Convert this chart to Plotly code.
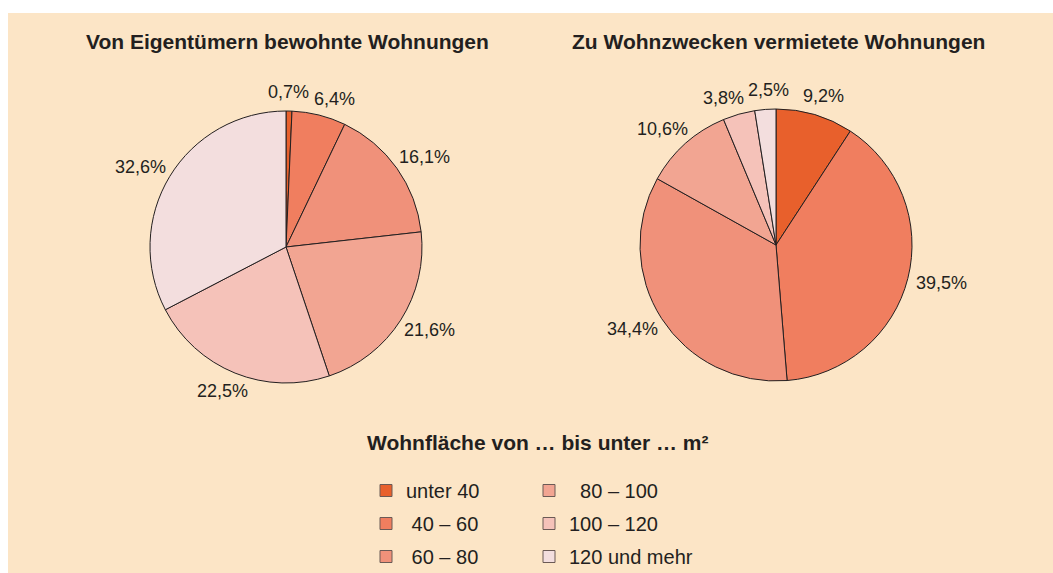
import math
import plotly.graph_objects as go

categories = ["unter 40", "40 – 60", "60 – 80", "80 – 100", "100 – 120", "120 und mehr"]
owner_values = [0.7, 6.4, 16.1, 21.6, 22.5, 32.6]
rented_values = [9.2, 39.5, 34.4, 10.6, 3.8, 2.5]
colors = ["#E8602C", "#F07E5F", "#F0917A", "#F2A592", "#F5C2B9", "#F3DEDE"]
titles = ["Von Eigentümern bewohnte Wohnungen", "Zu Wohnzwecken vermietete Wohnungen"]
legend_title = "Wohnfläche von … bis unter … m²"
# legend display text (non-breaking spaces mimic the tab alignment of the original)
legend_pad = [0, 1, 1, 2, 0, 0]

W, H = 1053, 573
BG = "#FCE5C6"
TXT = "#231F20"
FONT = "Liberation Sans, Arial, sans-serif"
R = 136          # pie radius in px
LABEL_SIZE = 18
GAP = 9
PIE_CENTERS = [(286, 247), (776, 245)]


def fmt(v):
    return f"{v:.1f}".replace(".", ",") + "%"


def text_width(s, size):
    em = {",": 0.278, "%": 0.889}
    return sum(em.get(c, 0.556) for c in s) * size


def label_center(cx, cy, theta, hw, hh):
    s, c = math.sin(theta), math.cos(theta)
    return cx + (R + GAP) * s + hw * s, cy - (R + GAP) * c - hh * c


fig = go.Figure()

# legend-only traces (hidden under the centre of the first pie): two legends, 3 rows each
hx, hy = PIE_CENTERS[0]
for i, (lab, col) in enumerate(zip(categories, colors)):
    fig.add_trace(go.Pie(
        labels=["\u00a0" * legend_pad[i] + lab], values=[1],
        marker=dict(colors=[col], line=dict(color="#6b5a55", width=1)),
        textinfo="none", hoverinfo="skip", legendgroup=lab,
        legend="legend" if i < 3 else "legend2",
        domain=dict(x=[hx / W, hx / W + 0.0003], y=[1 - hy / H, 1 - hy / H + 0.0003]),
        showlegend=True,
    ))

annotations = []
for vals, (cx, cy) in zip([owner_values, rented_values], PIE_CENTERS):
    fig.add_trace(go.Pie(
        labels=categories, values=vals, textinfo="none",
        marker=dict(colors=colors, line=dict(color=TXT, width=1)),
        sort=False, direction="clockwise", rotation=0,
        domain=dict(x=[(cx - R) / W, (cx + R) / W], y=[1 - (cy + R) / H, 1 - (cy - R) / H]),
        showlegend=False,
    ))
    total = sum(vals)
    cum = 0.0
    thetas, texts, hws = [], [], []
    for v in vals:
        thetas.append(2 * math.pi * (cum + v / 2) / total)
        cum += v
        texts.append(fmt(v))
        hws.append(text_width(fmt(v), LABEL_SIZE) / 2)
    hh = 10
    n = len(vals)
    # relaxation so neighbouring labels do not overlap (bigger slices move more)
    for _ in range(600):
        moved = False
        for i in range(n):
            j = (i + 1) % n
            xi, yi = label_center(cx, cy, thetas[i], hws[i], hh)
            xj, yj = label_center(cx, cy, thetas[j], hws[j], hh)
            if abs(xi - xj) < hws[i] + hws[j] + 4 and abs(yi - yj) < 2 * hh + 2:
                wsum = vals[i] + vals[j]
                thetas[i] -= 0.008 * vals[i] / wsum
                thetas[j] += 0.008 * vals[j] / wsum
                moved = True
        if not moved:
            break
    for t, th, hw in zip(texts, thetas, hws):
        x, y = label_center(cx, cy, th, hw, hh)
        annotations.append(dict(text=t, x=x / W, y=1 - y / H, xanchor="center", yanchor="middle",
                                font=dict(family=FONT, size=LABEL_SIZE, color=TXT)))

for t, (x, y) in [(titles[0], (287, 42)), (titles[1], (778, 42)), (legend_title, (537, 443))]:
    annotations.append(dict(text=f"<b>{t}</b>", x=x / W, y=1 - y / H, xanchor="center",
                            yanchor="middle", font=dict(family=FONT, size=21, color=TXT)))

for a in annotations:
    a.update(xref="paper", yref="paper", showarrow=False)

leg_common = dict(orientation="v", yanchor="top", xanchor="left", bgcolor="rgba(0,0,0,0)",
                  font=dict(family=FONT, size=20, color=TXT), itemclick=False,
                  itemdoubleclick=False, tracegroupgap=4, traceorder="grouped")

fig.update_layout(
    width=W, height=H, margin=dict(l=0, r=0, t=0, b=0, autoexpand=False),
    paper_bgcolor="white", plot_bgcolor="white",
    shapes=[dict(type="rect", xref="paper", yref="paper", x0=8 / W, x1=1, y0=0, y1=1 - 13 / H,
                 fillcolor=BG, line=dict(width=0), layer="below")],
    annotations=annotations,
    legend=dict(x=366 / W, y=1 - 471 / H, **leg_common),
    legend2=dict(x=529 / W, y=1 - 471 / H, **leg_common),
    font=dict(family=FONT, color=TXT),
)

post = (
    "var gd=document.getElementById('{plot_id}');"
    "document.documentElement.style.cssText='margin:0;padding:0;overflow:hidden;height:573px';"
    "document.body.style.cssText='margin:0;padding:0;overflow:hidden;height:573px';"
    "gd.parentElement.style.cssText='position:absolute;left:0;top:0;width:1053px;height:573px;"
    "overflow:hidden;margin:0;padding:0';"
)
fig.write_html("out.html", config={"displayModeBar": False}, post_script=post)
